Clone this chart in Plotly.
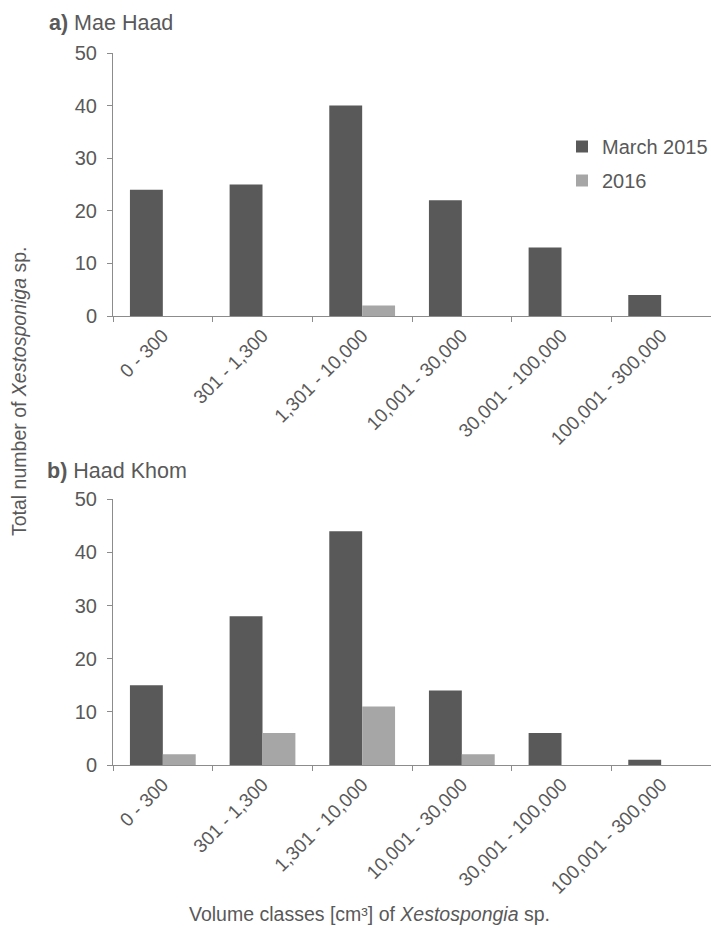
import plotly.graph_objects as go

# Volume classes (cm³) of Xestospongia sp.
volume_classes = ["0 - 300", "301 - 1,300", "1,301 - 10,000",
                  "10,001 - 30,000", "30,001 - 100,000", "100,001 - 300,000"]

# a) Mae Haad – number of sponges per class
mae_haad_2015 = [24, 25, 40, 22, 13, 4]
mae_haad_2016 = [0, 0, 2, 0, 0, 0]

# b) Haad Khom – number of sponges per class
haad_khom_2015 = [15, 28, 44, 14, 6, 1]
haad_khom_2016 = [2, 6, 11, 2, 0, 0]

y_ticks = [0, 10, 20, 30, 40, 50]

DARK = "#595959"
LIGHT = "#a6a6a6"
TEXT = "#595959"
AXIS = "#8c8c8c"
FONT = "Arial, Liberation Sans, sans-serif"

W, H = 711, 930
ML, MR, MT, MB = 113, 0, 53, 165
PW, PH = W - ML - MR, H - MT - MB


def px(x):
    return (x - ML) / PW


def py(y):
    return (H - MB - y) / PH


fig = go.Figure()

fig.add_trace(go.Bar(x=volume_classes, y=mae_haad_2015, name="March 2015",
                     marker=dict(color=DARK, line=dict(width=0)),
                     xaxis="x", yaxis="y", legendgroup="a"))
fig.add_trace(go.Bar(x=volume_classes, y=mae_haad_2016, name="2016",
                     marker=dict(color=LIGHT, line=dict(width=0)),
                     xaxis="x", yaxis="y", legendgroup="b"))
fig.add_trace(go.Bar(x=volume_classes, y=haad_khom_2015, name="March 2015",
                     marker=dict(color=DARK, line=dict(width=0)),
                     xaxis="x2", yaxis="y2", showlegend=False))
fig.add_trace(go.Bar(x=volume_classes, y=haad_khom_2016, name="2016",
                     marker=dict(color=LIGHT, line=dict(width=0)),
                     xaxis="x2", yaxis="y2", showlegend=False))

xcommon = dict(
    type="category", showline=True, linecolor=AXIS, linewidth=1,
    ticks="outside", ticklen=5, tickcolor=AXIS, tickson="boundaries",
    tickangle=-45, tickfont=dict(size=19, color=TEXT, family=FONT),
    showgrid=False, zeroline=False, fixedrange=True,
)
ycommon = dict(
    range=[0, 50], tickvals=y_ticks, showline=True, linecolor=AXIS, linewidth=1,
    ticks="outside", ticklen=5, tickcolor=AXIS, ticklabelstandoff=6,
    tickfont=dict(size=20, color=TEXT, family=FONT),
    showgrid=False, zeroline=False, fixedrange=True,
)

top_bottom = py(316)
bot_top = py(499.3)

fig.update_layout(
    width=W, height=H,
    margin=dict(l=ML, r=MR, t=MT, b=MB, autoexpand=False),
    paper_bgcolor="white", plot_bgcolor="white",
    font=dict(family=FONT, color=TEXT, size=19),
    barmode="group", bargap=0.34, bargroupgap=0,
    xaxis=dict(domain=[0, 1], anchor="y", **xcommon),
    yaxis=dict(domain=[top_bottom, 1], anchor="x", **ycommon),
    xaxis2=dict(domain=[0, 1], anchor="y2", **xcommon),
    yaxis2=dict(domain=[0, bot_top], anchor="x2", **ycommon),
    showlegend=True,
    legend=dict(x=px(562), y=py(127), xanchor="left", yanchor="top",
                bgcolor="rgba(0,0,0,0)", borderwidth=0,
                font=dict(size=20, color=TEXT, family=FONT),
                traceorder="grouped", tracegroupgap=5, itemwidth=30),
    annotations=[
        dict(text="<b>a)</b> Mae Haad", xref="paper", yref="paper",
             x=px(47), y=py(23), xanchor="left", yanchor="middle",
             showarrow=False, font=dict(size=21.5, color=TEXT, family=FONT)),
        dict(text="<b>b)</b> Haad Khom", xref="paper", yref="paper",
             x=px(45), y=py(471), xanchor="left", yanchor="middle",
             showarrow=False, font=dict(size=21.5, color=TEXT, family=FONT)),
        dict(text="Total number of <i>Xestosponiga</i> sp.", xref="paper",
             yref="paper", x=px(19), y=py(392), xanchor="center",
             yanchor="middle", textangle=-90, showarrow=False,
             font=dict(size=19.5, color=TEXT, family=FONT)),
        dict(text="Volume classes [cm³] of <i>Xestospongia</i> sp.",
             xref="paper", yref="paper", x=px(369), y=py(914),
             xanchor="center", yanchor="middle", showarrow=False,
             font=dict(size=19.5, color=TEXT, family=FONT)),
    ],
)

fig.write_html("out.html")
